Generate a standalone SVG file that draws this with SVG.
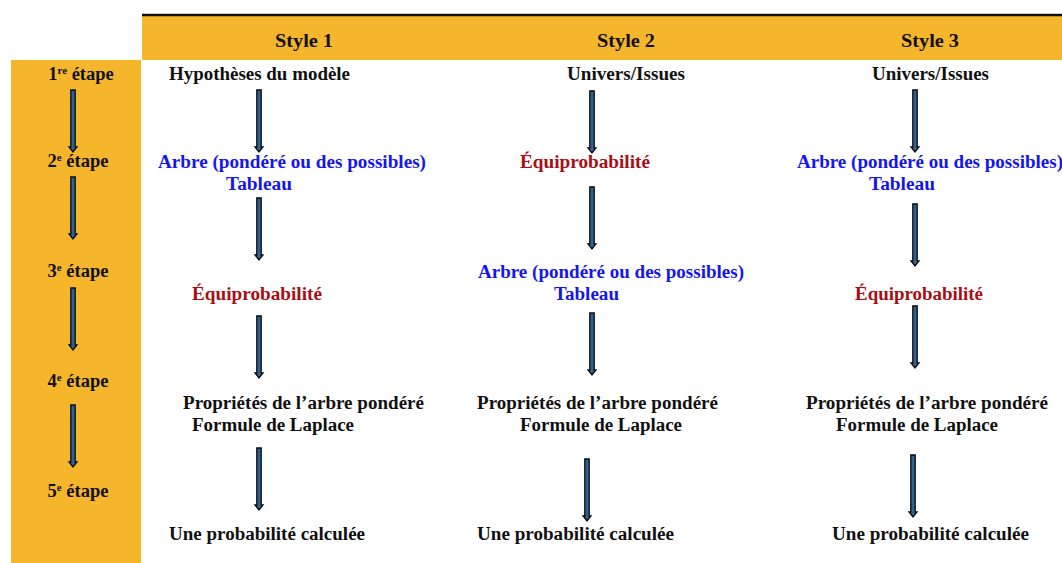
<svg xmlns="http://www.w3.org/2000/svg" xmlns:xlink="http://www.w3.org/1999/xlink" width="1062" height="563" viewBox="0 0 1062 563">
<style>
text{font-family:"Liberation Serif","Times New Roman",serif;font-weight:bold;font-size:18px;fill:#111}
.h{font-size:19px}
.st{font-size:18.5px}
.b{fill:#1515F0}
.r{fill:#A80F14}
.s{font-size:11px}
</style>
<defs>
<path id="arr" d="M-2.2,0 H2.2 V57 H4 L0,62 L-4,57 H-2.2 Z" fill="#2F6393" stroke="#0a0a0a" stroke-width="1.3" stroke-linejoin="miter"/>
</defs>
<rect width="1062" height="563" fill="#fff"/>
<g id="header">
<rect x="142" y="15" width="920" height="45" fill="#F6B62C"/>
<line x1="142" y1="15" x2="1062" y2="15" stroke="#111" stroke-width="2.5"/>
<text class="h" x="275" y="47" textLength="58" lengthAdjust="spacingAndGlyphs">Style 1</text>
<text class="h" x="597" y="47" textLength="58" lengthAdjust="spacingAndGlyphs">Style 2</text>
<text class="h" x="901" y="47" textLength="58" lengthAdjust="spacingAndGlyphs">Style 3</text>
</g>
<g id="steps">
<rect x="11" y="60" width="130" height="503" fill="#F6B62C"/>
<text class="st" x="81" y="80" text-anchor="middle">1<tspan class="s" dy="-6">re</tspan><tspan dy="6"> étape</tspan></text>
<text class="st" x="78" y="167" text-anchor="middle">2<tspan class="s" dy="-6">e</tspan><tspan dy="6"> étape</tspan></text>
<text class="st" x="78" y="277" text-anchor="middle">3<tspan class="s" dy="-6">e</tspan><tspan dy="6"> étape</tspan></text>
<text class="st" x="78" y="387" text-anchor="middle">4<tspan class="s" dy="-6">e</tspan><tspan dy="6"> étape</tspan></text>
<text class="st" x="78" y="497" text-anchor="middle">5<tspan class="s" dy="-6">e</tspan><tspan dy="6"> étape</tspan></text>
</g>
<g id="style1">
<text x="169" y="80" textLength="181" lengthAdjust="spacingAndGlyphs">Hypothèses du modèle</text>
<text class="b" x="158" y="168" textLength="268" lengthAdjust="spacingAndGlyphs">Arbre (pondéré ou des possibles)</text>
<text class="b" x="226" y="190" textLength="66" lengthAdjust="spacingAndGlyphs">Tableau</text>
<text class="r" x="192" y="300" textLength="130" lengthAdjust="spacingAndGlyphs">Équiprobabilité</text>
<text x="183" y="409" textLength="241" lengthAdjust="spacingAndGlyphs">Propriétés de l’arbre pondéré</text>
<text x="192" y="431" textLength="162" lengthAdjust="spacingAndGlyphs">Formule de Laplace</text>
<text x="169" y="540" textLength="196" lengthAdjust="spacingAndGlyphs">Une probabilité calculée</text>
</g>
<g id="style2">
<text x="567" y="80" textLength="118" lengthAdjust="spacingAndGlyphs">Univers/Issues</text>
<text class="r" x="520" y="168" textLength="130" lengthAdjust="spacingAndGlyphs">Équiprobabilité</text>
<text class="b" x="478" y="278" textLength="266" lengthAdjust="spacingAndGlyphs">Arbre (pondéré ou des possibles)</text>
<text class="b" x="554" y="300" textLength="65" lengthAdjust="spacingAndGlyphs">Tableau</text>
<text x="477" y="409" textLength="241" lengthAdjust="spacingAndGlyphs">Propriétés de l’arbre pondéré</text>
<text x="520" y="431" textLength="162" lengthAdjust="spacingAndGlyphs">Formule de Laplace</text>
<text x="477" y="540" textLength="197" lengthAdjust="spacingAndGlyphs">Une probabilité calculée</text>
</g>
<g id="style3">
<text x="872" y="80" textLength="117" lengthAdjust="spacingAndGlyphs">Univers/Issues</text>
<text class="b" x="797" y="168" textLength="266" lengthAdjust="spacingAndGlyphs">Arbre (pondéré ou des possibles)</text>
<text class="b" x="869" y="190" textLength="66" lengthAdjust="spacingAndGlyphs">Tableau</text>
<text class="r" x="855" y="300" textLength="128" lengthAdjust="spacingAndGlyphs">Équiprobabilité</text>
<text x="806" y="409" textLength="242" lengthAdjust="spacingAndGlyphs">Propriétés de l’arbre pondéré</text>
<text x="836" y="431" textLength="162" lengthAdjust="spacingAndGlyphs">Formule de Laplace</text>
<text x="832" y="540" textLength="197" lengthAdjust="spacingAndGlyphs">Une probabilité calculée</text>
</g>
<g id="connectors">
<use xlink:href="#arr" x="73" y="90"/>
<use xlink:href="#arr" x="73" y="177"/>
<use xlink:href="#arr" x="73" y="288"/>
<use xlink:href="#arr" x="73" y="405"/>
<use xlink:href="#arr" x="259" y="90"/>
<use xlink:href="#arr" x="259" y="198"/>
<use xlink:href="#arr" x="259" y="316"/>
<use xlink:href="#arr" x="259" y="448"/>
<use xlink:href="#arr" x="592" y="91"/>
<use xlink:href="#arr" x="592" y="187"/>
<use xlink:href="#arr" x="592" y="313"/>
<use xlink:href="#arr" x="587" y="459"/>
<use xlink:href="#arr" x="915" y="90"/>
<use xlink:href="#arr" x="915" y="204"/>
<use xlink:href="#arr" x="915" y="306"/>
<use xlink:href="#arr" x="913" y="455"/>
</g>
</svg>
